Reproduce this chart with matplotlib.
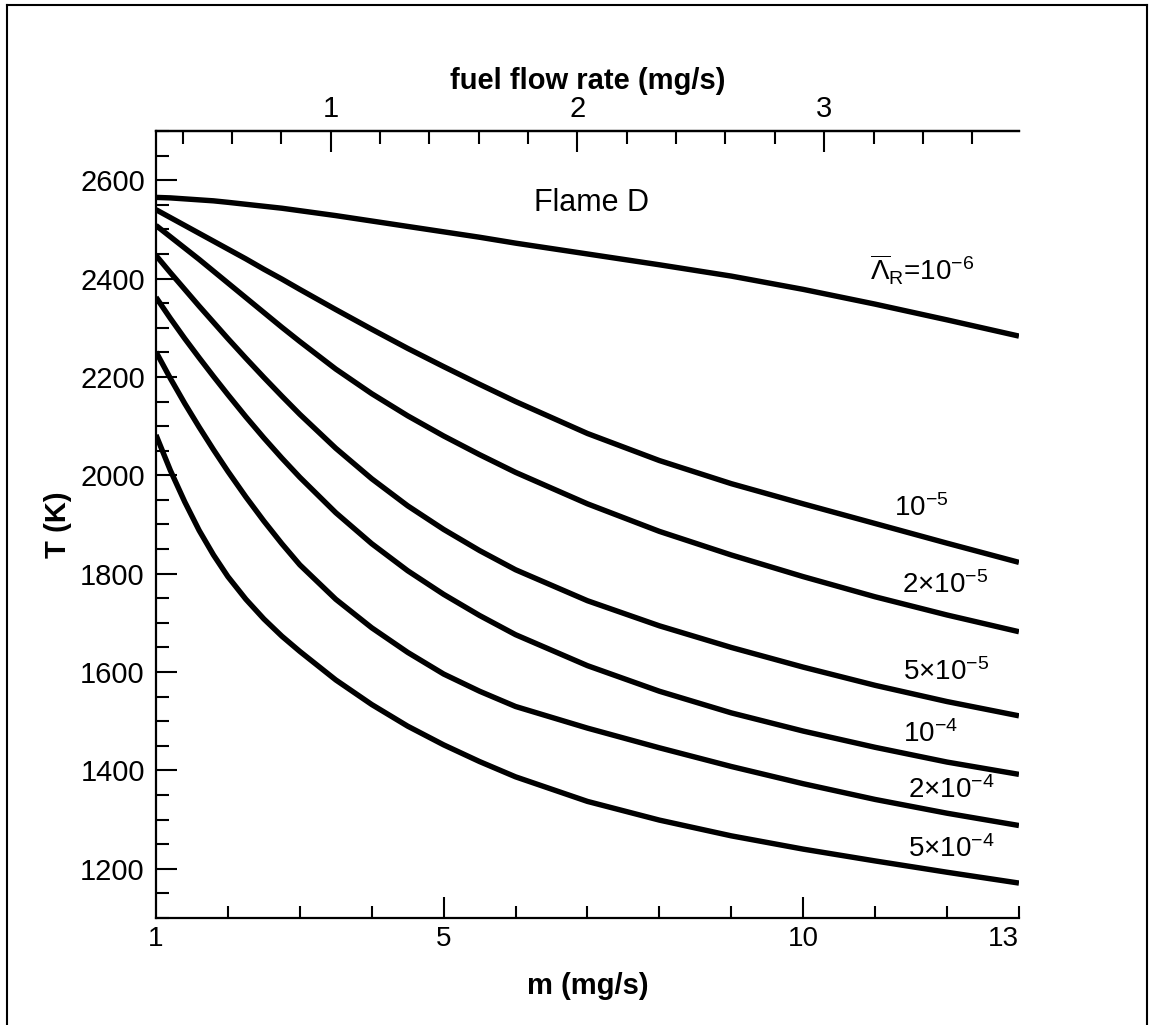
import numpy as np
import matplotlib
matplotlib.use("Agg")
import matplotlib.pyplot as plt
from matplotlib.ticker import MultipleLocator, FixedLocator
from matplotlib.lines import Line2D

plt.rcParams['font.family'] = ['Liberation Sans', 'DejaVu Sans']
plt.rcParams['mathtext.fontset'] = 'custom'
plt.rcParams['mathtext.rm'] = 'Liberation Sans'
plt.rcParams['mathtext.it'] = 'Liberation Sans:italic'
plt.rcParams['mathtext.bf'] = 'Liberation Sans:bold'

# mass flow rate m (mg/s) at which the curves were read
m_vals = [1, 1.2, 1.4, 1.6, 1.8, 2, 2.25, 2.5, 2.75, 3, 3.5, 4, 4.5, 5, 5.5, 6,
          7, 8, 9, 10, 11, 12, 13]

# flame temperature (K) for each radiation parameter
T_1e6 = [2565, 2564, 2562, 2560, 2558, 2555, 2551, 2547, 2543, 2538, 2528, 2517,
         2506, 2495, 2484, 2472, 2450, 2428, 2405, 2378, 2348, 2316, 2283]
T_1e5 = [2540, 2524, 2508, 2492, 2476, 2460, 2440, 2419, 2399, 2378, 2337, 2297,
         2258, 2221, 2185, 2150, 2085, 2030, 1983, 1942, 1902, 1862, 1823]
T_2e5 = [2508, 2485, 2462, 2439, 2415, 2391, 2361, 2331, 2301, 2272, 2216, 2166,
         2121, 2080, 2042, 2006, 1942, 1886, 1838, 1794, 1753, 1716, 1682]
T_5e5 = [2447, 2412, 2378, 2344, 2311, 2278, 2238, 2199, 2161, 2124, 2055, 1993,
         1938, 1890, 1847, 1808, 1745, 1694, 1650, 1610, 1573, 1540, 1511]
T_1e4 = [2362, 2319, 2278, 2239, 2201, 2164, 2119, 2076, 2035, 1996, 1924, 1861,
         1806, 1758, 1715, 1676, 1613, 1561, 1517, 1480, 1447, 1417, 1392]
T_2e4 = [2251, 2197, 2146, 2098, 2052, 2008, 1956, 1907, 1861, 1818, 1748, 1690,
         1640, 1596, 1561, 1530, 1486, 1446, 1408, 1373, 1341, 1313, 1288]
T_5e4 = [2082, 2010, 1946, 1888, 1838, 1794, 1748, 1708, 1673, 1642, 1584, 1534,
         1490, 1452, 1418, 1387, 1337, 1299, 1267, 1240, 1216, 1193, 1171]

curves = [T_1e6, T_1e5, T_2e5, T_5e5, T_1e4, T_2e4, T_5e4]

labels = [r'$\overline{\Lambda}_{\rm R}$=10$^{-6}$', r'10$^{-5}$', r'2×10$^{-5}$', r'5×10$^{-5}$',
          r'10$^{-4}$', r'2×10$^{-4}$', r'5×10$^{-4}$']
label_m = [11.65, 11.64, 11.97, 11.99, 11.77, 12.06, 12.06]
label_T = [2417, 1934, 1777, 1600, 1474, 1360, 1240]

# fuel flow rate per unit of m
FUEL_PER_M = 0.2915

fig = plt.figure(figsize=(11.52, 10.25), dpi=100)
ax = fig.add_axes([0.1354, 0.1044, 0.8845 - 0.1354, 0.8722 - 0.1044])

for T in curves:
    ax.plot(m_vals, T, color='black', lw=3.9, solid_capstyle='butt',
            solid_joinstyle='round')

for txt, xm, yt in zip(labels, label_m, label_T):
    ax.text(xm, yt, txt, fontsize=20, ha='center', va='center')

ax.text(7.05, 2554, 'Flame D', fontsize=22, ha='center', va='center')

ax.set_xlim(1, 13)
ax.set_ylim(1100, 2700)

ax.spines['right'].set_visible(False)
for s in ['left', 'bottom', 'top']:
    ax.spines[s].set_linewidth(1.6)

ax.xaxis.remove_overlapping_locs = False
ax.xaxis.set_major_locator(FixedLocator([1, 5, 10, 13]))
ax.xaxis.set_minor_locator(FixedLocator([2, 3, 4, 6, 7, 8, 9, 11, 12, 13]))
ax.set_yticks(np.arange(1200, 2601, 200))
ax.yaxis.set_minor_locator(MultipleLocator(50))

ax.tick_params(which='both', direction='in', top=False, right=False, width=1.5)
ax.tick_params(which='major', length=15, labelsize=21, pad=8)
ax.tick_params(which='minor', length=9)
ax.tick_params(axis='x', which='major', labelsize=20, pad=6)
# the ends of the m axis get no long tick mark
ax.xaxis.get_major_ticks()[0].tick1line.set_visible(False)
ax.xaxis.get_major_ticks()[-1].tick1line.set_visible(False)
ax.get_xticklabels()[-1].set_horizontalalignment('right')

ax.set_xlabel('m (mg/s)', fontsize=21, fontweight='bold', labelpad=14)
ax.set_ylabel('T (K)', fontsize=21, fontweight='bold', labelpad=6)

top = ax.secondary_xaxis('top', functions=(lambda m: m * FUEL_PER_M, lambda f: f / FUEL_PER_M))
top.xaxis.set_major_locator(FixedLocator([1, 2, 3]))
top.xaxis.set_minor_locator(MultipleLocator(0.2))
top.tick_params(which='both', direction='in', width=1.5)
top.tick_params(which='major', length=15, labelsize=21, pad=6)
top.tick_params(which='minor', length=9)
top.spines['top'].set_linewidth(1.6)
top.set_xlabel('fuel flow rate (mg/s)', fontsize=21, fontweight='bold', labelpad=4)

# page frame
for xs, ys in [([0.006, 0.006], [-0.01, 0.995]), ([0.006, 0.996], [0.995, 0.995]),
               ([0.996, 0.996], [0.995, -0.01])]:
    fig.add_artist(Line2D(xs, ys, color='black', lw=1.5, transform=fig.transFigure))

fig.savefig('out.png', dpi=100)
